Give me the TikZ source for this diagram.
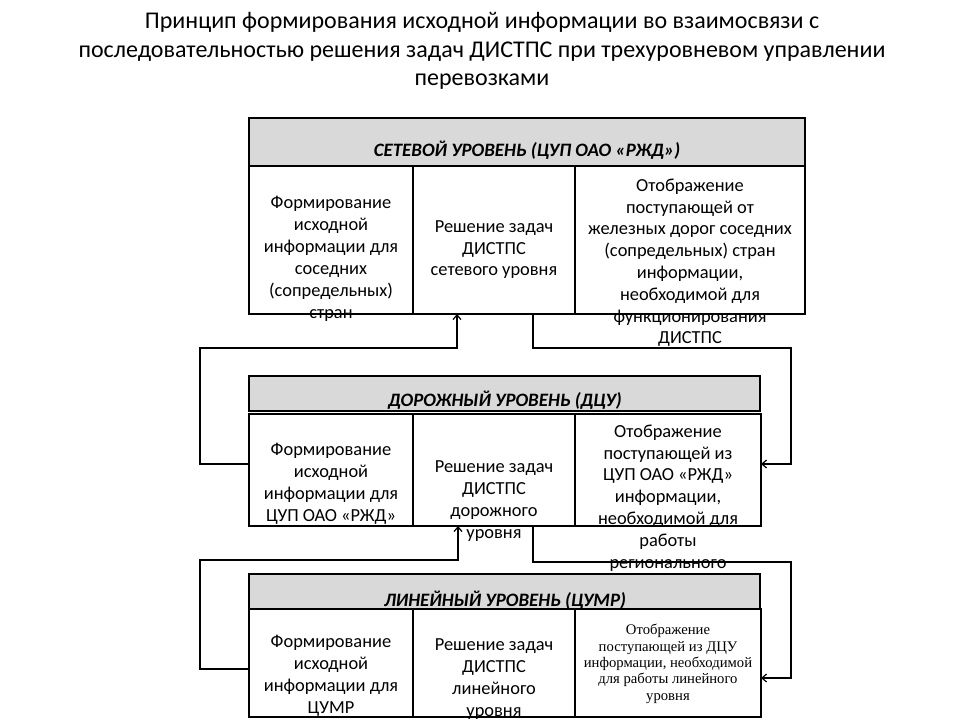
\documentclass[tikz,border=0pt]{standalone}
\usepackage{fontspec}
\setmainfont{Carlito}
\newfontfamily\serifcell{Liberation Serif}
\usetikzlibrary{arrows.meta}
\begin{document}
\begin{tikzpicture}[x=0.75pt,y=-0.75pt]
\tikzset{level head/.style={draw,fill=black!15,line width=0.9pt,anchor=north west,inner sep=0pt,outer sep=0pt},
  cell/.style={draw,line width=0.9pt,anchor=north west,inner sep=0pt,outer sep=0pt},
  head text/.style={anchor=base,inner sep=0pt,font=\bfseries\itshape\fontsize{14.2}{16}\selectfont},
  cell text/.style={align=center,anchor=base,inner sep=0pt,font=\fontsize{13.8}{16.35}\selectfont},
  flow/.style={line width=0.9pt,-{Straight Barb[length=3.5pt,width=6pt]}}}
\useasboundingbox[fill=white] (0,0) rectangle (960,720);
% title (base = last line)
\node[align=center,anchor=base,inner sep=0pt,font=\fontsize{18}{21.4}\selectfont] (title) at (482,86)
  {Принцип формирования исходной информации во взаимосвязи с\\последовательностью решения задач ДИСТПС при трехуровневом управлении\\перевозками};
% network level
\node[level head,minimum width=417pt,minimum height=36pt] (sH) at (249,118) {};
\node[head text] (sHt) at (527,157) {СЕТЕВОЙ УРОВЕНЬ (ЦУП ОАО «РЖД»)};
\node[cell,minimum width=123pt,minimum height=111pt] (s1) at (249,166) {};
\node[cell,minimum width=121.5pt,minimum height=111pt] (s2) at (413,166) {};
\node[cell,minimum width=172.5pt,minimum height=111pt] (s3) at (575,166) {};
% road level
\node[level head,minimum width=383.25pt,minimum height=26.25pt] (mH) at (249,376) {};
\node[head text] (mHt) at (505,406) {ДОРОЖНЫЙ УРОВЕНЬ (ДЦУ)};
\node[cell,minimum width=123pt,minimum height=84pt] (m1) at (249,414) {};
\node[cell,minimum width=121.5pt,minimum height=84pt] (m2) at (413,414) {};
\node[cell,minimum width=139.5pt,minimum height=84pt] (m3) at (575,414) {};
% line level
\node[level head,minimum width=383.25pt,minimum height=26.25pt] (lH) at (249,574) {};
\node[head text] (lHt) at (505,606) {ЛИНЕЙНЫЙ УРОВЕНЬ (ЦУМР)};
\node[cell,minimum width=123pt,minimum height=81pt] (l1) at (249,609) {};
\node[cell,minimum width=121.5pt,minimum height=81pt] (l2) at (413,609) {};
\node[cell,minimum width=139.5pt,minimum height=81pt] (l3) at (575,609) {};
% connectors
\coordinate (sBusL) at (200,348);
\coordinate (sBusR) at (791,348);
\coordinate (mBusL) at (200,560);
\coordinate (mBusR) at (791,562);
\draw[flow] ([yshift=4.5pt]m1.west) -| (sBusL) -| ([xshift=-27.75pt]s2.south);
\draw[flow] ([xshift=29.25pt]s2.south) |- (sBusR) |- ([yshift=4.5pt]m3.east);
\draw[flow] ([yshift=-4.5pt]l1.west) -| (mBusL) -| ([xshift=-27pt]m2.south);
\draw[flow] ([xshift=29.25pt]m2.south) |- (mBusR) |- ([yshift=-11.25pt]l3.east);
% cell texts (base = last line)
\node[cell text] (s1t) at (331,318) {Формирование\\исходной\\информации для\\соседних\\(сопредельных)\\стран};
\node[cell text] (s2t) at (494,276) {Решение задач\\ДИСТПС\\сетевого уровня};
\node[cell text] (s3t) at (690,344) {Отображение\\поступающей от\\железных дорог соседних\\(сопредельных) стран\\информации,\\необходимой для\\функционирования\\ДИСТПС};
\node[cell text] (m1t) at (331,521) {Формирование\\исходной\\информации для\\ЦУП ОАО «РЖД»};
\node[cell text] (m2t) at (494,538) {Решение задач\\ДИСТПС\\дорожного\\уровня};
\node[cell text] (m3t) at (668,568) {Отображение\\поступающей из\\ЦУП ОАО «РЖД»\\информации,\\необходимой для\\работы\\регионального};
\node[cell text] (l1t) at (331,713) {Формирование\\исходной\\информации для\\ЦУМР};
\node[cell text] (l2t) at (494,716) {Решение задач\\ДИСТПС\\линейного\\уровня};
\node[cell text,font=\serifcell\fontsize{11}{12.2}\selectfont] (l3t) at (668,700) {Отображение\\поступающей из ДЦУ\\информации, необходимой\\для работы линейного\\уровня};
\end{tikzpicture}
\end{document}
